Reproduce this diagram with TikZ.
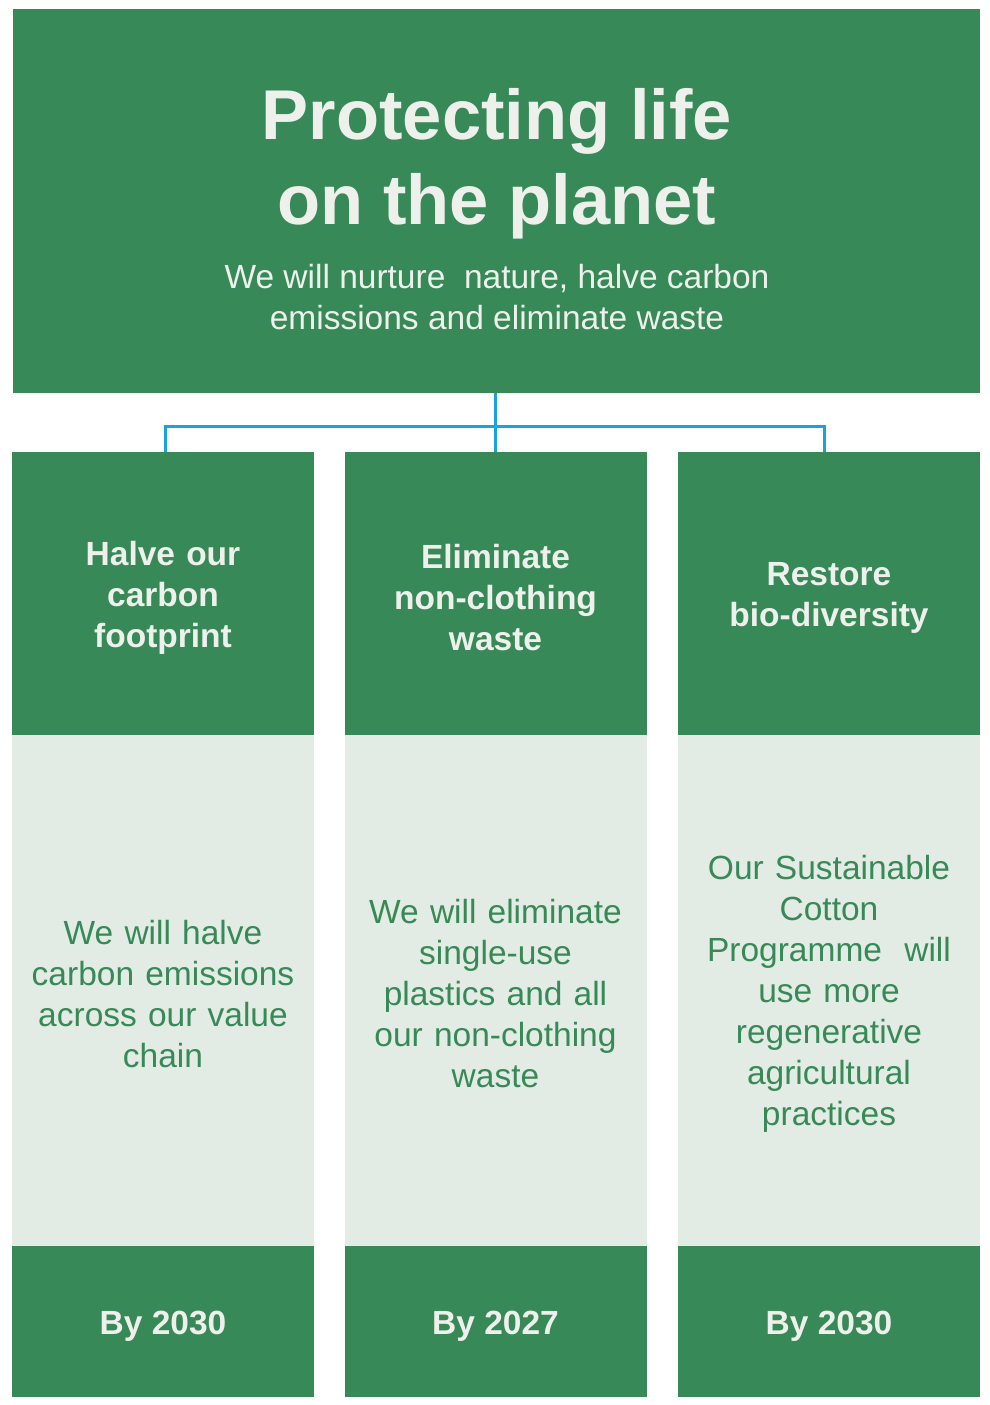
\documentclass[tikz,border=0pt]{standalone}
\usepackage{fontspec}
\setmainfont{Liberation Sans}
\definecolor{hgreen}{RGB}{56,137,88}
\definecolor{hlight}{RGB}{226,236,228}
\definecolor{htext}{RGB}{238,240,236}
\definecolor{hblue}{RGB}{24,163,222}
\tikzset{
  box/.style={fill=hgreen, draw=none, inner sep=0pt, minimum width=302pt, anchor=center},
  hdr/.style={box, minimum height=283pt, text=htext, text width=290pt, align=center,
     font=\fontsize{33.5}{41}\selectfont\bfseries},
  mid/.style={fill=hlight, draw=none, inner sep=0pt, minimum width=302pt, minimum height=511pt,
     text=hgreen, text width=290pt, align=center, font=\fontsize{33.5}{41}\selectfont},
  foot/.style={box, minimum height=151pt, text=htext, font=\fontsize{33.5}{41}\selectfont\bfseries},
  conn/.style={draw=hblue, line width=3pt}
}
\begin{document}
\begin{tikzpicture}[x=1pt,y=-1pt]
\useasboundingbox[fill=white] (0,0) rectangle (990,1405);
\node[fill=hgreen, inner sep=0pt, minimum width=967pt, minimum height=384pt] (top) at (496.5,201) {};
\node[text=htext, font=\fontsize{70.5}{85}\selectfont\bfseries, align=center] (title) at (497,164) {Protecting life\\on the planet};
\node[text=htext, font=\fontsize{33.5}{41}\selectfont, align=center] (sub) at (497,297) {We will nurture\ \ nature, halve carbon\\emissions and eliminate waste};
% column headers
\node[hdr] (h1) at (163,593.5) {};
\node[hdr] (h2) at (495.5,593.5) {};
\node[hdr] (h3) at (829,593.5) {};
\node[text=htext, text width=290pt, align=center, font=\fontsize{33.5}{41}\selectfont\bfseries] (t1) at (163,598) {Halve our\\carbon\\footprint};
\node[text=htext, text width=290pt, align=center, font=\fontsize{33.5}{41}\selectfont\bfseries] (t2) at (495.5,598) {Eliminate\\non-clothing\\waste};
\node[text=htext, text width=290pt, align=center, font=\fontsize{33.5}{41}\selectfont\bfseries] (t3) at (829,598) {Restore\\bio-diversity};
% middles
\node[mid] (m1) at (163,990.5) {};
\node[mid] (m2) at (495.5,990.5) {};
\node[mid] (m3) at (829,990.5) {};
\node[text=hgreen, text width=290pt, align=center, font=\fontsize{33.5}{41}\selectfont] (u1) at (163,994) {We will halve\\carbon emissions\\across our value\\chain};
\node[text=hgreen, text width=290pt, align=center, font=\fontsize{33.5}{41}\selectfont] (u2) at (495.5,994) {We will eliminate\\single-use\\plastics and all\\our non-clothing\\waste};
\node[text=hgreen, text width=290pt, align=center, font=\fontsize{33.5}{41}\selectfont] (u3) at (829,994) {Our Sustainable\\Cotton\\Programme\ \ will\\use more\\regenerative\\agricultural\\practices};
% footers
\node[foot] (f1) at (163,1321.5) {};
\node[foot] (f2) at (495.5,1321.5) {};
\node[foot] (f3) at (829,1321.5) {};
\node[text=htext, font=\fontsize{33.5}{41}\selectfont\bfseries] (b1) at (163,1326) {By 2030};
\node[text=htext, font=\fontsize{33.5}{41}\selectfont\bfseries] (b2) at (495.5,1326) {By 2027};
\node[text=htext, font=\fontsize{33.5}{41}\selectfont\bfseries] (b3) at (829,1326) {By 2030};
% connectors
\coordinate (bus) at (495,426);
\coordinate (d1) at (165,452);
\coordinate (d3) at (824,452);
\draw[conn] (top.south -| bus) -- (h2.north -| bus);
\draw[conn] (d1) |- (bus) -| (d3);
\end{tikzpicture}
\end{document}
